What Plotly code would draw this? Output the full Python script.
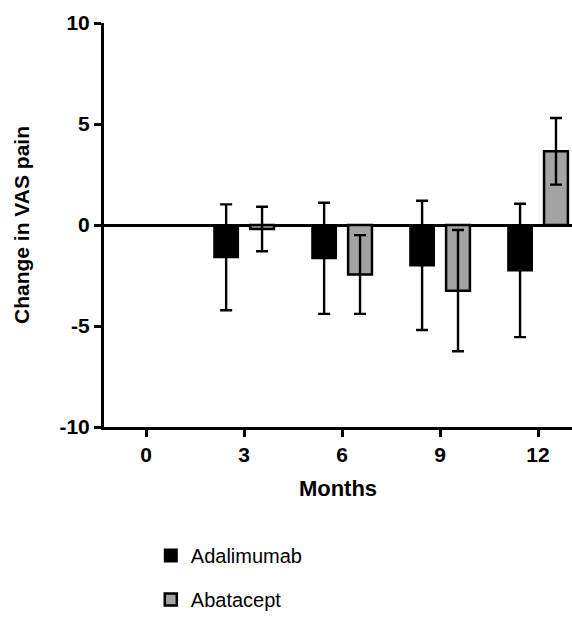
import plotly.graph_objects as go

months = [0, 3, 6, 9, 12]
tick_labels = ["0", "3", "6", "9", "12"]
y_ticks = [-10, -5, 0, 5, 10]
y_tick_labels = ["-10", "-5", "0", "5", "10"]
adalimumab = [None, -1.6, -1.65, -2.0, -2.25]
adalimumab_err = [None, 2.62, 2.75, 3.2, 3.3]
abatacept = [None, -0.2, -2.45, -3.25, 3.65]
abatacept_err = [None, 1.1, 1.95, 3.0, 1.65]

FONT = "Arial, Liberation Sans, sans-serif"

fig = go.Figure()
fig.add_trace(go.Bar(
    x=months, y=adalimumab, name="Adalimumab", legendgroup="a",
    marker=dict(color="black", line=dict(color="black", width=2)),
    error_y=dict(type="data", array=adalimumab_err, visible=True,
                 color="black", thickness=2.4, width=6),
))
fig.add_trace(go.Bar(
    x=months, y=abatacept, name="Abatacept", legendgroup="b",
    marker=dict(color="#a3a3a3", line=dict(color="black", width=2.5)),
    error_y=dict(type="data", array=abatacept_err, visible=True,
                 color="black", thickness=2.4, width=6),
))

fig.update_layout(
    width=572, height=620,
    margin=dict(l=104, r=0, t=23, b=193),
    paper_bgcolor="white", plot_bgcolor="white",
    barmode="group", bargap=0.267, bargroupgap=0.336,
    font=dict(family=FONT, color="black"),
    showlegend=True,
    legend=dict(x=0.1, xanchor="left", y=-0.27, yanchor="top",
                font=dict(size=20, family=FONT, color="black"),
                tracegroupgap=15, bgcolor="rgba(0,0,0,0)"),
    xaxis=dict(
        range=[-1.29, 13.04], tickvals=months, ticktext=tick_labels,
        automargin=False,
        showline=True, linecolor="black", linewidth=3,
        ticks="outside", ticklen=7, tickwidth=3, tickcolor="black",
        showgrid=False, zeroline=False,
        tickfont=dict(size=21, family=FONT, color="black", weight="bold"),
        title=dict(text="<b>Months</b>", font=dict(size=22, family=FONT, color="black"),
                   standoff=16),
    ),
    yaxis=dict(
        range=[-10, 10], tickvals=y_ticks, ticktext=y_tick_labels,
        automargin=False,
        showline=True, linecolor="black", linewidth=3,
        ticks="outside", ticklen=7, tickwidth=3, tickcolor="black",
        showgrid=False, zeroline=True, zerolinecolor="black", zerolinewidth=2.5,
        tickfont=dict(size=21, family=FONT, color="black", weight="bold"),
        title=dict(text="<b>Change in VAS pain</b>", font=dict(size=21, family=FONT, color="black"),
                   standoff=25),
    ),
)

fig.write_html("out.html", config={"displayModeBar": False},
               post_script="document.body.style.margin='0';")
